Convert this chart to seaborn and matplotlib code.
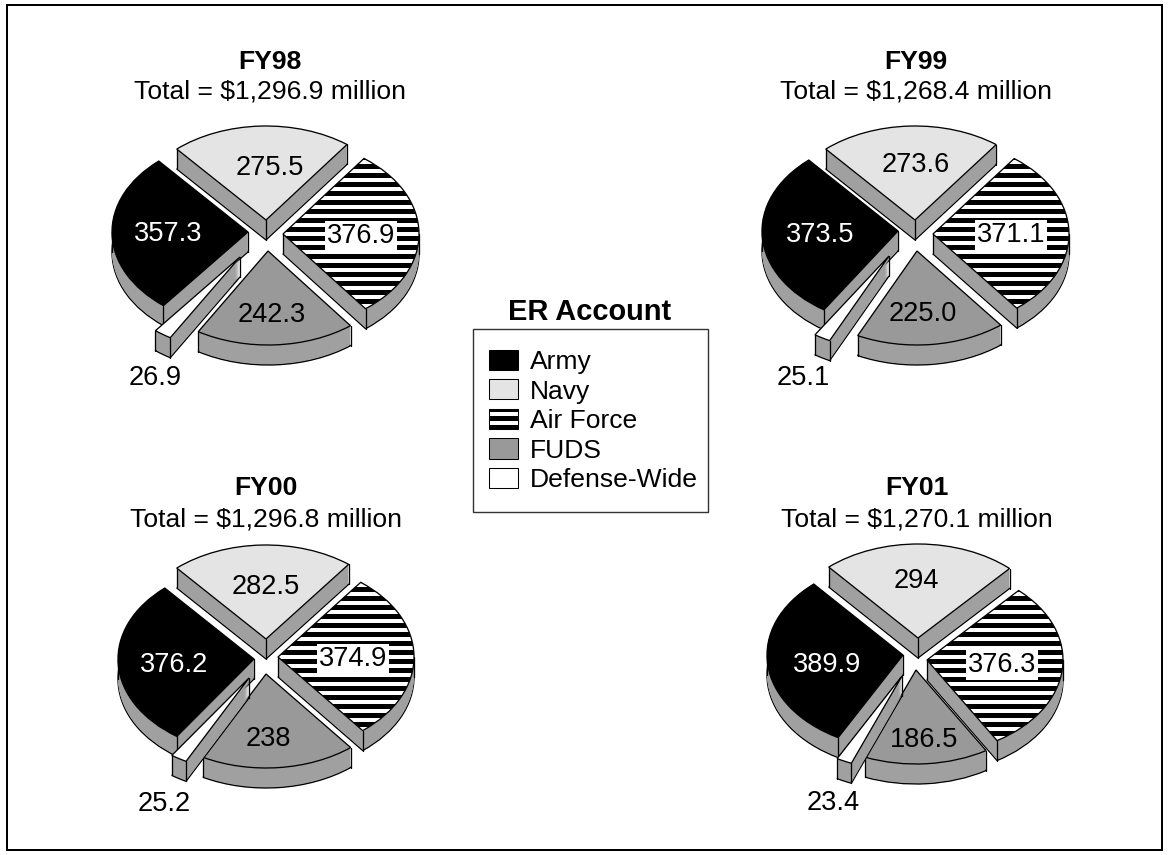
import numpy as np
import matplotlib
matplotlib.use('Agg')
import matplotlib.pyplot as plt
from matplotlib.patches import Patch, Rectangle
import seaborn as sns

# ================= data =================
ACCOUNTS = ['Army', 'Navy', 'Air Force', 'FUDS', 'Defense-Wide']
YEARS = ['FY98', 'FY99', 'FY00', 'FY01']
TOTALS = ['$1,296.9', '$1,268.4', '$1,296.8', '$1,270.1']
FY98 = [357.3, 275.5, 376.9, 242.3, 26.9]
FY99 = [373.5, 273.6, 371.1, 225.0, 25.1]
FY00 = [376.2, 282.5, 374.9, 238, 25.2]
FY01 = [389.9, 294, 376.3, 186.5, 23.4]
LABELS = [
    ['357.3', '275.5', '376.9', '242.3', '26.9'],
    ['373.5', '273.6', '371.1', '225.0', '25.1'],
    ['376.2', '282.5', '374.9', '238', '25.2'],
    ['389.9', '294', '376.3', '186.5', '23.4'],
]

# ================= layout (all in image pixels) =================
W, H = 1169, 855
DPI = 108                # hatch tile follows dpi, this gives 9 px stripes
PT = 72 / DPI
RX, RY = 136, 94         # pie radius, squashed in y
DEPTH = 20 / RY          # slab thickness, data units
N_LAYERS = 20
CENTERS = [(266, 236), (915, 235.5), (266, 656.5), (915, 654)]
# where each slice's point sits: Army, Navy, Air Force, FUDS, Defense-Wide
APEX = [
    [(248, 232), (266, 220), (283, 234), (268, 251), (240, 257)],
    [(898, 231), (915, 220), (933, 234), (917, 251), (889, 256)],
    [(254, 659), (266, 639), (278, 657), (266, 674), (249, 678)],
    [(903, 655), (918, 638), (927, 660), (916, 670), (902, 676)],
]
LABEL_POS = [
    [(168, 232), (270, 166), (361, 234), (272, 313), (155, 376)],
    [(820, 233), (916, 163), (1011, 233), (923, 312), (803, 376)],
    [(174, 663), (266, 585), (353, 657), (268, 737), (164, 802)],
    [(827, 663), (916, 579), (1002, 663), (924, 738), (833, 801)],
]
TITLE_POS = [(270, 60, 89), (916, 60, 89), (266, 486, 517), (917, 486, 517)]
TEXT_NUDGE = 2           # va='center' sits a bit high for digits
START_ARMY_TOP = 131     # upper edge of the Army slice, degrees
Z_RANK = [30, 10, 20, 40, 50]

SIDE = '#a0a0a0'
COLORS = sns.color_palette(['#000000', '#e4e4e4', '#ffffff', '#999999', '#ffffff'])

sns.set_theme(style='white')
plt.rcParams['font.family'] = ['Liberation Sans', 'DejaVu Sans']
plt.rcParams['text.color'] = 'black'
plt.rcParams['hatch.linewidth'] = 5 * PT
plt.rcParams['hatch.color'] = 'black'
FS_TITLE = 26.5 * PT
FS_LABEL = 27.2 * PT
FS_LEGEND_TITLE = 29 * PT
LW = 1.3 * PT


def draw_pie(ax, values, center, apex):
    total = sum(values)
    start = START_ARMY_TOP + 360 * values[0] / total
    # apex pixels -> data units of this axes
    shifts = [((px - center[0]) / RX, (center[1] - py) / RY) for px, py in apex]
    wedges = None
    for k, dy in enumerate(np.linspace(DEPTH, 0, N_LAYERS + 1)):
        wedges, _ = ax.pie(values, startangle=start, counterclock=False, radius=1, frame=True,
                           colors=[SIDE] * len(values), normalize=True)
        for i, w in enumerate(wedges):
            w.set_center((shifts[i][0], shifts[i][1] - dy))
            w.set_zorder(Z_RANK[i] + k * 0.01)
            w.set_clip_on(False)
            if k == 0:
                w.set_edgecolor('black')
                w.set_linewidth(LW)
            else:
                w.set_linewidth(0)
    # top faces use the last pie drawn (dy = 0)
    for i, w in enumerate(wedges):
        w.set_facecolor(COLORS[i])
        w.set_edgecolor('black')
        w.set_linewidth(LW)
        w.set_zorder(Z_RANK[i] + 5)
        if ACCOUNTS[i] == 'Air Force':
            w.set_hatch('--')
        cx, cy = w.center
        a1, a2 = np.radians(w.theta1), np.radians(w.theta2)
        xs = [cx, cx + np.cos(a1), cx + np.cos(a2)]
        ys = [cy, cy + np.sin(a1), cy + np.sin(a2)]
        # extreme left / right of the arc needs a silhouette edge too
        for ext in (0, 180, 360):
            if w.theta1 < ext < w.theta2:
                xs.append(cx + np.cos(np.radians(ext)))
                ys.append(cy)
        for x, y in zip(xs, ys):
            ax.plot([x, x], [y, y - DEPTH], color='black', lw=LW,
                    zorder=Z_RANK[i] + 4, clip_on=False)
    ax.set_aspect('auto')
    ax.set_xlim(-1.5, 1.5)
    ax.set_ylim(-1.5, 1.5)
    ax.axis('off')


fig = plt.figure(figsize=(W / DPI, H / DPI), dpi=DPI, facecolor='white')
fig.add_artist(Rectangle((7 / W, 1 - 850 / H), 1155 / W, 845 / H, transform=fig.transFigure,
                         facecolor='none', edgecolor='black', lw=2 * PT, zorder=-1))

all_values = [FY98, FY99, FY00, FY01]
for n, year in enumerate(YEARS):
    cx, cy = CENTERS[n]
    ax = fig.add_axes([(cx - 1.5 * RX) / W, 1 - (cy + 1.5 * RY) / H, 3 * RX / W, 3 * RY / H])
    ax.patch.set_alpha(0)
    draw_pie(ax, all_values[n], CENTERS[n], APEX[n])
    tx, ty1, ty2 = TITLE_POS[n]
    fig.text(tx / W, 1 - (ty1 + TEXT_NUDGE) / H, year, ha='center', va='center',
             fontsize=FS_TITLE, fontweight='bold')
    fig.text(tx / W, 1 - (ty2 + TEXT_NUDGE) / H, f'Total = {TOTALS[n]} million', ha='center', va='center',
             fontsize=FS_TITLE)
    for i, acc in enumerate(ACCOUNTS):
        lx, ly = LABEL_POS[n][i]
        kw = {}
        if acc == 'Air Force':
            kw['bbox'] = dict(facecolor='white', edgecolor='none', pad=1.5)
        fig.text(lx / W, 1 - (ly + TEXT_NUDGE) / H, LABELS[n][i], ha='center', va='center', fontsize=FS_LABEL,
                 color='white' if acc == 'Army' else 'black', zorder=5, **kw)

# legend: frame drawn separately so its size can be set exactly
handles = [Patch(facecolor=COLORS[i], edgecolor='black', lw=LW * 0.8,
                 hatch='--' if ACCOUNTS[i] == 'Air Force' else None) for i in range(len(ACCOUNTS))]
fig.text(590 / W, 1 - 312 / H, 'ER Account', ha='center', va='center', fontsize=FS_LEGEND_TITLE, fontweight='bold')
fig.add_artist(Rectangle((473 / W, 1 - 512 / H), 235 / W, 183 / H, transform=fig.transFigure,
                         facecolor='white', edgecolor='#333333', lw=1.4 * PT, zorder=2))
leg = fig.legend(handles, ACCOUNTS, loc='center left', bbox_to_anchor=(489 / W, 1 - 421 / H),
                 fontsize=FS_TITLE, frameon=False,
                 handlelength=1.1, handleheight=0.8, handletextpad=0.43, labelspacing=0.2,
                 borderpad=0, borderaxespad=0)
leg.set_zorder(3)

plt.savefig('out.png', dpi=DPI)
